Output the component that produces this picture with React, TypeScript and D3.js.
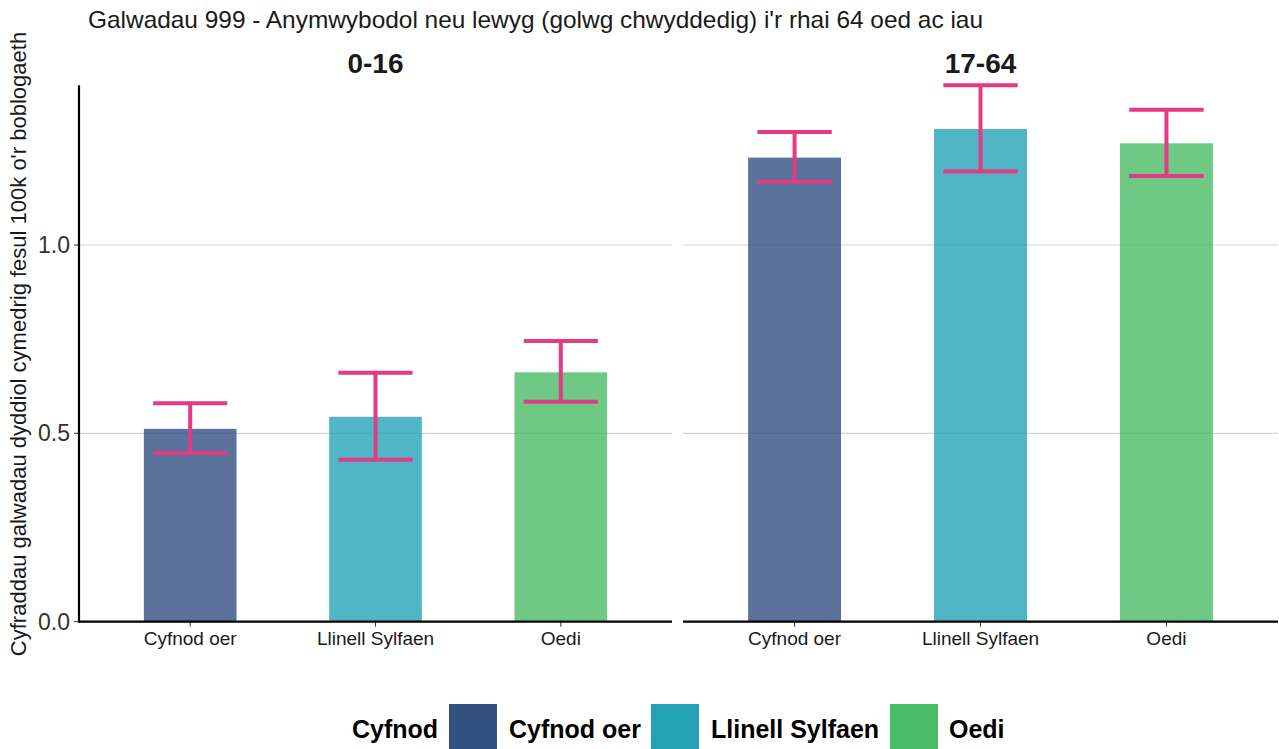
import React from "react";
import * as d3 from "d3";

const title = "Galwadau 999 - Anymwybodol neu lewyg (golwg chwyddedig) i'r rhai 64 oed ac iau";
const yTitle = "Cyfraddau galwadau dyddiol cymedrig fesul 100k o'r boblogaeth";
const panels = ["0-16", "17-64"];
const categories = ["Cyfnod oer", "Llinell Sylfaen", "Oedi"];
const colors = ["#325082", "#24A2B5", "#4ABB66"];
const means0_16 = [0.512, 0.544, 0.662];
const lower0_16 = [0.448, 0.43, 0.584];
const upper0_16 = [0.58, 0.661, 0.745];
const means17_64 = [1.232, 1.308, 1.27];
const lower17_64 = [1.168, 1.195, 1.183];
const upper17_64 = [1.3, 1.424, 1.359];
const yTicks = [0, 0.5, 1.0];
const legendTitle = "Cyfnod";

const W = 1279;
const H = 749;
const FONT = "'Liberation Sans', Arial, Helvetica, sans-serif";
const panelX: [number, number][] = [
  [79, 672],
  [683, 1278],
];
const plotTop = 85.3;
const plotBottom = 621.7;
const errColor = "#E23A84";

export default function App() {
  const series = [
    { means: means0_16, lower: lower0_16, upper: upper0_16 },
    { means: means17_64, lower: lower17_64, upper: upper17_64 },
  ];
  const yMax = d3.max([...upper0_16, ...upper17_64]) as number;
  const y = d3.scaleLinear().domain([0, yMax]).range([plotBottom, plotTop]);

  const legendItems = [
    { x: 449, tx: 509 },
    { x: 651, tx: 711 },
    { x: 890, tx: 949 },
  ];

  return (
    <svg width={W} height={H} style={{ position: "absolute", left: 0, top: 0, background: "#fff" }} fontFamily={FONT}>
      <rect x={0} y={0} width={W} height={H} fill="#fff" />
      <text x={88} y={28} fontSize={24} fill="#1a1a1a" textLength={895} lengthAdjust="spacingAndGlyphs">{title}</text>
      <text
        transform={`translate(26, 344) rotate(-90)`}
        textAnchor="middle"
        fontSize={22}
        fill="#1a1a1a"
      >
        {yTitle}
      </text>
      {panels.map((p, pi) => {
        const [x0, x1] = panelX[pi];
        const x = d3
          .scaleBand<string>()
          .domain(categories)
          .range([x0, x1])
          .paddingInner(0.5)
          .paddingOuter(0.35);
        const s = series[pi];
        const bw = x.bandwidth();
        const capW = bw * 0.8;
        return (
          <g key={p}>
            {yTicks.map((t) => (
              <line key={t} x1={x0} x2={x1} y1={y(t)} y2={y(t)} stroke="#d4d4d4" strokeWidth={1.2} />
            ))}
            {categories.map((c, i) => {
              const bx = x(c) as number;
              const cx = bx + bw / 2;
              return (
                <g key={c}>
                  <rect
                    x={bx}
                    y={y(s.means[i])}
                    width={bw}
                    height={y(0) - y(s.means[i])}
                    fill={colors[i]}
                    fillOpacity={0.8}
                  />
                  <line x1={cx} x2={cx} y1={y(s.upper[i])} y2={y(s.lower[i])} stroke={errColor} strokeWidth={4} />
                  <line x1={cx - capW / 2} x2={cx + capW / 2} y1={y(s.upper[i])} y2={y(s.upper[i])} stroke={errColor} strokeWidth={4} />
                  <line x1={cx - capW / 2} x2={cx + capW / 2} y1={y(s.lower[i])} y2={y(s.lower[i])} stroke={errColor} strokeWidth={4} />
                  <line x1={cx} x2={cx} y1={plotBottom} y2={plotBottom + 5} stroke="#333" strokeWidth={1} />
                  <text x={cx} y={645} textAnchor="middle" fontSize={19} fill="#1a1a1a">{c}</text>
                </g>
              );
            })}
            <line x1={x0} x2={x1} y1={plotBottom} y2={plotBottom} stroke="#000" strokeWidth={2.2} />
            <text x={(x0 + x1) / 2} y={73} textAnchor="middle" fontSize={28} fontWeight="bold" fill="#1a1a1a">{p}</text>
          </g>
        );
      })}
      <line x1={79} x2={79} y1={plotTop} y2={plotBottom + 1} stroke="#000" strokeWidth={2.2} />
      {yTicks.map((t) => (
        <g key={t}>
          <line x1={74} x2={79} y1={y(t)} y2={y(t)} stroke="#333" strokeWidth={1} />
          <text x={70} y={y(t) + 8} textAnchor="end" fontSize={23} fill="#333">{t.toFixed(1)}</text>
        </g>
      ))}
      <text x={352} y={738} fontSize={25} fontWeight="bold" fill="#000">{legendTitle}</text>
      {categories.map((c, i) => (
        <g key={c}>
          <rect x={legendItems[i].x} y={704} width={48} height={48} fill={colors[i]} />
          <text x={legendItems[i].tx} y={738} fontSize={25} fontWeight="bold" fill="#000">{c}</text>
        </g>
      ))}
    </svg>
  );
}
